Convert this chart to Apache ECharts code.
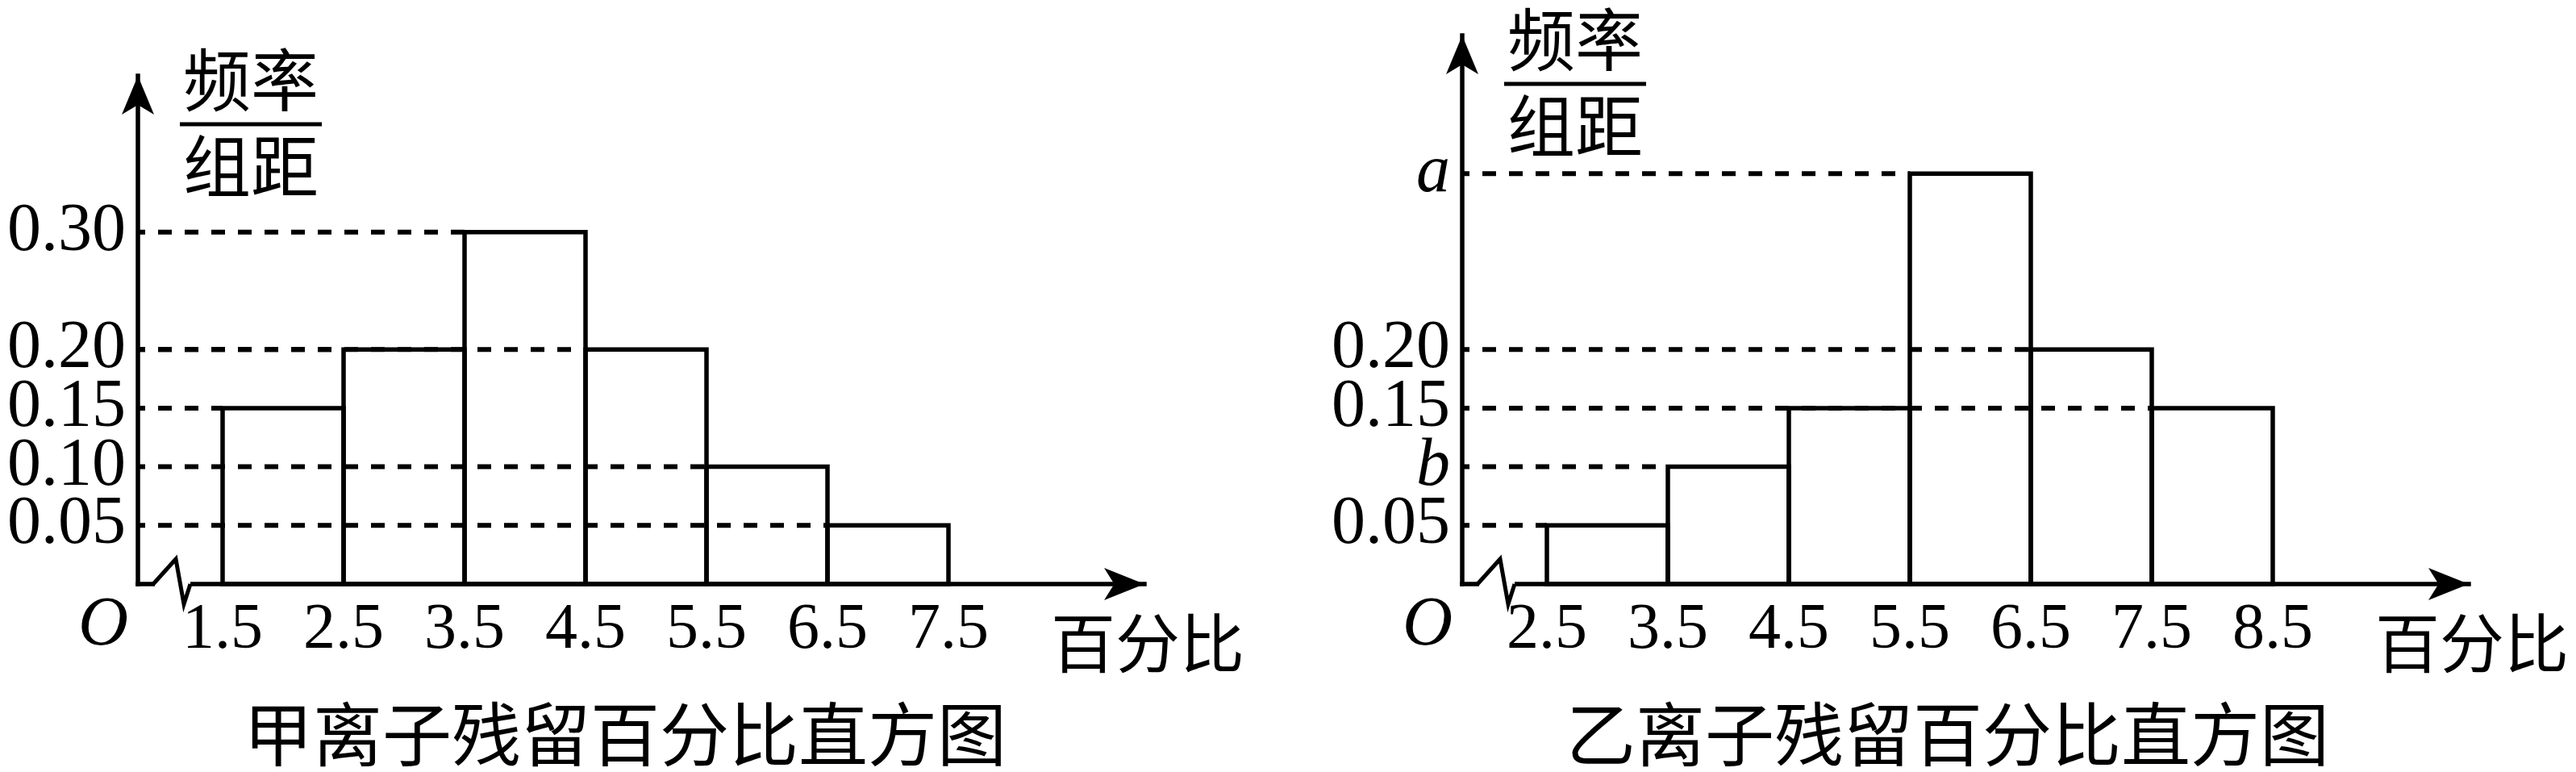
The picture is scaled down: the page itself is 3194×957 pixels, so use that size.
<!DOCTYPE html>
<html>
<head>
<meta charset="utf-8">
<script src="https://cdn.jsdelivr.net/npm/echarts@6/dist/echarts.min.js"></script>
<style>
  html, body { margin: 0; padding: 0; background: #fff; }
  #chart { width: 3194px; height: 957px; }
</style>
</head>
<body>
<div id="chart"></div>
<script>
// ---------- data ----------
const binWidth = 1;
const leftEdges = [1.5, 2.5, 3.5, 4.5, 5.5, 6.5];
const leftValues = [0.15, 0.20, 0.30, 0.20, 0.10, 0.05];
const leftXTicks = [1.5, 2.5, 3.5, 4.5, 5.5, 6.5, 7.5];
const leftYTicks = [0.05, 0.10, 0.15, 0.20, 0.30];
const leftYTickLabels = ['0.05', '0.10', '0.15', '0.20', '0.30'];

const rightEdges = [2.5, 3.5, 4.5, 5.5, 6.5, 7.5];
const rightValues = [0.05, 0.10, 0.15, 0.35, 0.20, 0.15];
const rightXTicks = [2.5, 3.5, 4.5, 5.5, 6.5, 7.5, 8.5];
const rightYTicks = [0.05, 0.10, 0.15, 0.20, 0.35];
const rightYTickLabels = ['0.05', 'b', '0.15', '0.20', 'a'];

const leftTitle = '甲离子残留百分比直方图';
const rightTitle = '乙离子残留百分比直方图';
const yName = ['频率', '组距'];
const xName = '百分比';
const originLabel = 'O';

// ---------- styles / layout ----------
const SERIF = "'Liberation Serif', 'Times New Roman', serif";
const CJK = "'Noto Sans CJK SC', sans-serif";
const LW = 5.5;
const DASH_LW = 6;
const leftRange = { xMin: 0.8, xMax: 9.12, yMax: 0.4333 };
const rightRange = { xMin: 1.8, xMax: 10.12, yMax: 0.4677 };

const chart = echarts.init(document.getElementById('chart'), null, { renderer: 'canvas' });

function fmtFactory(ticks, labels) {
  return function (v) {
    for (let i = 0; i < ticks.length; i++) {
      if (Math.abs(ticks[i] - v) < 1e-6) {
        const t = labels[i];
        return /^[a-z]$/.test(t) ? '{i|' + t + '}' : t;
      }
    }
    return '';
  };
}

function makeXAxis(idx, range, ticks) {
  return {
    type: 'value', gridIndex: idx, min: range.xMin, max: range.xMax,
    axisLine: { show: true, onZero: false, symbol: ['none', 'arrow'], symbolSize: [30, 50],
      lineStyle: { color: '#000', width: LW, cap: 'square' } },
    axisTick: { show: false },
    splitLine: { show: false },
    axisLabel: { customValues: ticks, showMinLabel: true, showMaxLabel: true, hideOverlap: false,
      margin: 18, color: '#000', fontFamily: SERIF, fontSize: 80,
      formatter: v => String(v) }
  };
}
// labels are split over two overlaid axes (alternating) so that close labels are never auto-hidden
function makeYAxis(idx, range, ticks, labels, part) {
  const shown = ticks.filter((t, i) => (part === 0 ? i !== 1 : i === 1));
  return {
    type: 'value', gridIndex: idx, min: 0, max: range.yMax, position: 'left', offset: 0,
    axisLine: { show: part === 0, onZero: false, symbol: ['none', 'arrow'], symbolSize: [30, 48],
      lineStyle: { color: '#000', width: LW, cap: 'square' } },
    axisTick: { show: false },
    splitLine: { show: false },
    axisLabel: { customValues: shown, showMinLabel: true, showMaxLabel: true, hideOverlap: false,
      margin: 15, color: '#000', fontFamily: SERIF, fontSize: 84,
      formatter: fmtFactory(ticks, labels),
      rich: { i: { fontFamily: SERIF, fontStyle: 'italic', fontSize: 84, color: '#000' } } }
  };
}

function barData(edges, values) {
  return edges.map((e, i) => [e, e + binWidth, values[i]]);
}
function dashData(edges, values, xMin) {
  return edges.map((e, i) => [xMin, e, values[i]]);
}
function renderBar(params, api) {
  const p0 = api.coord([api.value(0), api.value(2)]);
  const p1 = api.coord([api.value(1), 0]);
  return { type: 'rect',
    shape: { x: p0[0], y: p0[1], width: p1[0] - p0[0], height: p1[1] - p0[1] },
    style: { fill: 'none', stroke: '#000', lineWidth: LW, lineJoin: 'miter' } };
}
function renderDash(params, api) {
  const p0 = api.coord([api.value(0), api.value(2)]);
  const p1 = api.coord([api.value(1), api.value(2)]);
  return { type: 'line',
    shape: { x1: p0[0], y1: p0[1], x2: p1[0], y2: p1[1] },
    style: { stroke: '#000', lineWidth: DASH_LW, lineDash: [17, 16], lineDashOffset: 8 } };
}

const option = {
  backgroundColor: '#fff',
  animation: false,
  grid: [
    { left: 171, top: 94, width: 1248, height: 630 },
    { left: 1813, top: 44, width: 1248, height: 680 }
  ],
  xAxis: [makeXAxis(0, leftRange, leftXTicks), makeXAxis(1, rightRange, rightXTicks)],
  yAxis: [
    makeYAxis(0, leftRange, leftYTicks, leftYTickLabels, 0),
    makeYAxis(1, rightRange, rightYTicks, rightYTickLabels, 0),
    makeYAxis(0, leftRange, leftYTicks, leftYTickLabels, 1),
    makeYAxis(1, rightRange, rightYTicks, rightYTickLabels, 1)
  ],
  series: [
    { type: 'custom', xAxisIndex: 0, yAxisIndex: 0, renderItem: renderDash, data: dashData(leftEdges, leftValues, leftRange.xMin), z: 2, silent: true },
    { type: 'custom', xAxisIndex: 0, yAxisIndex: 0, renderItem: renderBar, data: barData(leftEdges, leftValues), z: 3, silent: true },
    { type: 'custom', xAxisIndex: 1, yAxisIndex: 1, renderItem: renderDash, data: dashData(rightEdges, rightValues, rightRange.xMin), z: 2, silent: true },
    { type: 'custom', xAxisIndex: 1, yAxisIndex: 1, renderItem: renderBar, data: barData(rightEdges, rightValues), z: 3, silent: true }
  ]
};
chart.setOption(option);

// ---------- decorations (texts, axis break) ----------
function decorations(gridIndex, range, title, nameCx, titleCx) {
  const o = chart.convertToPixel({ gridIndex: gridIndex }, [range.xMin, 0]);
  const top = chart.convertToPixel({ gridIndex: gridIndex }, [range.xMin, range.yMax]);
  const ox = o[0], oy = o[1];
  const arrowTip = top[1] - 24;
  const fx = ox + 140;
  const els = [];
  els.push({ type: 'text', z: 50, style: { text: yName[0], x: fx, y: arrowTip + 29, font: '84px ' + CJK, fill: '#000', align: 'center', verticalAlign: 'middle' } });
  els.push({ type: 'line', z: 50, shape: { x1: fx - 88, y1: arrowTip + 84, x2: fx + 88, y2: arrowTip + 84 }, style: { stroke: '#000', lineWidth: 5 } });
  els.push({ type: 'text', z: 50, style: { text: yName[1], x: fx, y: arrowTip + 136, font: '84px ' + CJK, fill: '#000', align: 'center', verticalAlign: 'middle' } });
  els.push({ type: 'text', z: 50, style: { text: originLabel, x: ox - 43, y: oy + 52, font: 'italic 86px ' + SERIF, fill: '#000', align: 'center', verticalAlign: 'middle' } });
  els.push({ type: 'text', z: 50, style: { text: xName, x: nameCx, y: oy + 73, font: '80px ' + CJK, fill: '#000', align: 'center', verticalAlign: 'middle' } });
  els.push({ type: 'text', z: 50, style: { text: title, x: titleCx, y: oy + 186, font: '86px ' + CJK, fill: '#000', align: 'center', verticalAlign: 'middle' } });
  // axis break
  els.push({ type: 'rect', z: 60, shape: { x: ox + 21, y: oy - 5, width: 44, height: 10 }, style: { fill: '#fff' } });
  els.push({ type: 'polyline', z: 61, shape: { points: [[ox + 19, oy], [ox + 47, oy - 31], [ox + 57, oy + 25], [ox + 65, oy]] }, style: { stroke: '#000', lineWidth: 5, fill: 'none', lineJoin: 'miter' } });
  return els;
}

chart.setOption({
  graphic: { elements: [].concat(
    decorations(0, leftRange, leftTitle, 1423, 775),
    decorations(1, rightRange, rightTitle, 3065, 2415)
  ) }
});
</script>
</body>
</html>
